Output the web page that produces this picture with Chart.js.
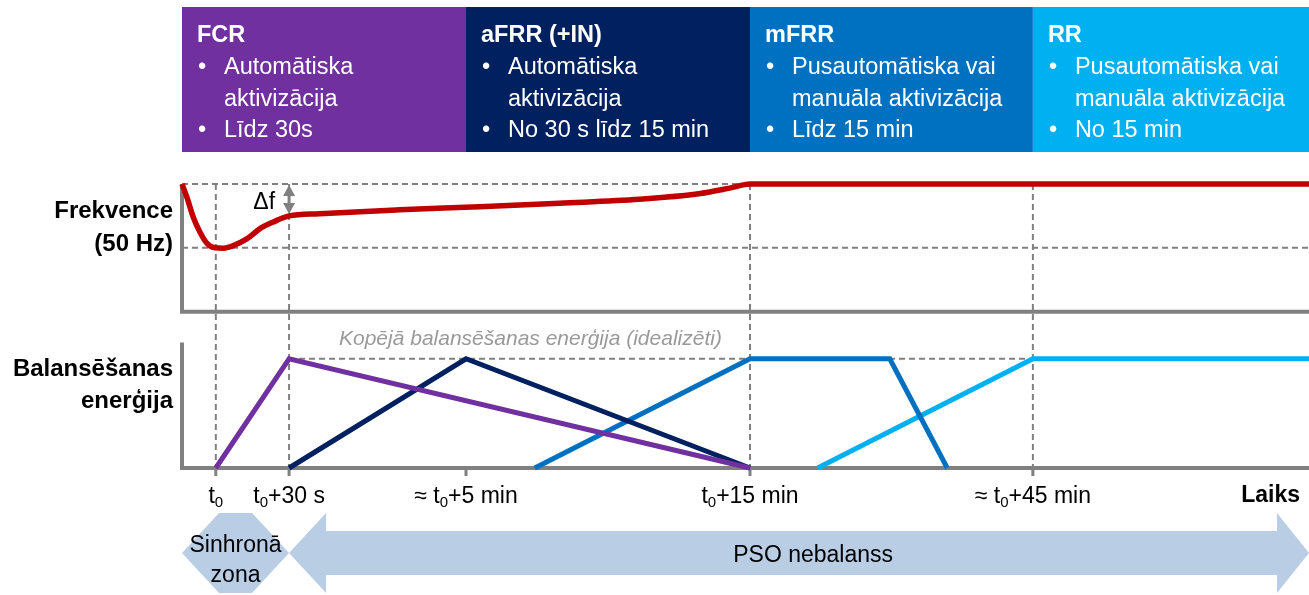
<!DOCTYPE html>
<html>
<head>
<meta charset="utf-8">
<script src="https://cdn.jsdelivr.net/npm/chart.js@4.4.1/dist/chart.umd.min.js"></script>
<style>
  html, body { margin: 0; padding: 0; background: #fff; }
  #wrap { width: 1309px; height: 595px; position: relative; }
</style>
</head>
<body>
<div id="wrap"><canvas id="chart"></canvas></div>
<script>
// schematic time axis 0..100 (not linear in real time)
const phaseNames = ['FCR', 'aFRR (+IN)', 'mFRR', 'RR'];
const phaseColors = ['#7030A0', '#002060', '#0070C0', '#00B0F0'];
const phaseBounds = [0, 25.2, 50.4, 75.5, 100];
const phaseLines = [
    [['Automātiska', 'aktivizācija'], ['Līdz 30s']],
    [['Automātiska', 'aktivizācija'], ['No 30 s līdz 15 min']],
    [['Pusautomātiska vai', 'manuāla aktivizācija'], ['Līdz 15 min']],
    [['Pusautomātiska vai', 'manuāla aktivizācija'], ['No 15 min']]
];

const tickPos = [3, 9.5, 25.2, 50.4, 75.5];
const tickLabels = ['t₀', 't₀+30 s', '≈ t₀+5 min', 't₀+15 min', '≈ t₀+45 min'];
const guidePos = [3, 9.5, 50.4, 75.5];

// frequency (Hz)
const freqNominal = 50.0;
const freqDip = 49.8;
const freqAxisMin = 49.6;
const freqX = [0, 0.42, 1.0, 1.6, 2.2, 2.93, 3.7, 4.5, 5.74, 6.92, 8.1, 9.5, 12.2, 19.3, 26.4, 33.5, 40.6, 46.0, 48.6, 50.4, 100];
const freqY = [50.0, 49.96, 49.896, 49.849, 49.815, 49.80, 49.799, 49.806, 49.828, 49.86, 49.881, 49.9, 49.907, 49.919, 49.929, 49.94, 49.952, 49.97, 49.987, 50.0, 50.0];

// balancing energy (relative to total)
const fcrX = [3, 9.5, 50.4];
const fcrY = [0, 1, 0];
const afrrX = [9.5, 25.2, 50.4];
const afrrY = [0, 1, 0];
const mfrrX = [31.3, 50.4, 62.8, 67.9];
const mfrrY = [0, 1, 1, 0];
const rrX = [56.4, 75.5, 100];
const rrY = [0, 1, 1];

const F = '"Liberation Sans", Arial, sans-serif';
const GRAY = '#808080';

function pts(xs, ys) {
    return xs.map((v, i) => ({ x: v, y: ys[i] }));
}

function seg(ctx, x1, y1, x2, y2) {
    ctx.beginPath();
    ctx.moveTo(x1, y1);
    ctx.lineTo(x2, y2);
    ctx.stroke();
}

function subText(ctx, str, cx, base, size, align) {
    const parts = str.split('₀');
    const sub = Math.round(size * 0.65);
    let w = 0;
    parts.forEach((p, i) => {
        ctx.font = size + 'px ' + F;
        w += ctx.measureText(p).width;
        if (i < parts.length - 1) {
            ctx.font = sub + 'px ' + F;
            w += ctx.measureText('0').width;
        }
    });
    let x0 = align === 'center' ? cx - w / 2 : cx;
    ctx.textAlign = 'left';
    parts.forEach((p, i) => {
        ctx.font = size + 'px ' + F;
        ctx.fillText(p, x0, base);
        x0 += ctx.measureText(p).width;
        if (i < parts.length - 1) {
            ctx.font = sub + 'px ' + F;
            ctx.fillText('0', x0, base + 4);
            x0 += ctx.measureText('0').width;
        }
    });
}

const diagram = {
    id: 'diagram',
    beforeDatasetsDraw(chart) {
        const { ctx } = chart;
        const x = chart.scales.x, yF = chart.scales.yF, yE = chart.scales.yE;
        const fTop = yF.getPixelForValue(freqNominal);
        const fDip = yF.getPixelForValue(freqDip);
        const fBase = yF.getPixelForValue(freqAxisMin);
        const eBase = yE.getPixelForValue(0);
        const ePeak = yE.getPixelForValue(1);
        ctx.save();

        // header boxes
        phaseNames.forEach((name, i) => {
            const l = x.getPixelForValue(phaseBounds[i]);
            const r = x.getPixelForValue(phaseBounds[i + 1]);
            ctx.fillStyle = phaseColors[i];
            ctx.fillRect(l, 7, r - l, 145);
            ctx.fillStyle = '#fff';
            ctx.textAlign = 'left';
            ctx.textBaseline = 'alphabetic';
            ctx.font = 'bold 23.5px ' + F;
            ctx.fillText(name, l + 15, 42);
            ctx.font = '23.5px ' + F;
            let row = 0;
            phaseLines[i].forEach(bullet => {
                bullet.forEach((txt, k) => {
                    const yy = 74 + row * 31.6;
                    if (k === 0) ctx.fillText('•', l + 16, yy);
                    ctx.fillText(txt, l + 42, yy);
                    row++;
                });
            });
        });

        // dashed guides
        ctx.strokeStyle = GRAY;
        ctx.lineWidth = 2;
        ctx.setLineDash([6, 4]);
        seg(ctx, x.left, fTop, x.getPixelForValue(50.4), fTop);
        seg(ctx, x.left, fDip, x.right, fDip);
        seg(ctx, x.getPixelForValue(9.5), ePeak, x.getPixelForValue(75.5), ePeak);
        guidePos.forEach(v => {
            const px = x.getPixelForValue(v);
            seg(ctx, px, fTop, px, eBase);
        });
        ctx.setLineDash([]);

        // axes
        ctx.lineWidth = 4;
        ctx.lineJoin = 'miter';
        ctx.beginPath();
        ctx.moveTo(x.left, fTop);
        ctx.lineTo(x.left, fBase);
        ctx.lineTo(x.right, fBase);
        ctx.stroke();
        ctx.beginPath();
        ctx.moveTo(x.left, yE.getPixelForValue(1.15));
        ctx.lineTo(x.left, eBase);
        ctx.lineTo(x.right, eBase);
        ctx.stroke();
        ctx.lineWidth = 3;
        tickPos.forEach(v => {
            const px = x.getPixelForValue(v);
            seg(ctx, px, eBase, px, eBase + 8);
        });

        // delta f arrow
        const ax = x.getPixelForValue(9.5);
        const aTop = fTop + 1, aBot = yF.getPixelForValue(49.9) - 2;
        ctx.lineWidth = 3;
        seg(ctx, ax, aTop + 8, ax, aBot - 8);
        ctx.fillStyle = GRAY;
        ctx.beginPath();
        ctx.moveTo(ax, aTop); ctx.lineTo(ax - 6, aTop + 11); ctx.lineTo(ax + 6, aTop + 11);
        ctx.closePath(); ctx.fill();
        ctx.beginPath();
        ctx.moveTo(ax, aBot); ctx.lineTo(ax - 6, aBot - 11); ctx.lineTo(ax + 6, aBot - 11);
        ctx.closePath(); ctx.fill();
        ctx.fillStyle = '#000';
        ctx.font = '23px ' + F;
        ctx.textAlign = 'right';
        ctx.fillText('Δf', ax - 14, 209);

        ctx.restore();
    },
    afterDraw(chart) {
        const { ctx } = chart;
        const x = chart.scales.x, yE = chart.scales.yE;
        ctx.save();
        ctx.textBaseline = 'alphabetic';

        // side labels
        ctx.fillStyle = '#000';
        ctx.font = 'bold 24px ' + F;
        ctx.textAlign = 'right';
        ctx.fillText('Frekvence', 173, 218);
        ctx.fillText('(50 Hz)', 173, 251);
        ctx.fillText('Balansēšanas', 173, 376);
        ctx.fillText('enerģija', 173, 408);
        ctx.font = 'bold 23px ' + F;
        ctx.fillText('Laiks', 1300, 502);

        // note
        ctx.fillStyle = '#9a9a9a';
        ctx.font = 'italic 21px ' + F;
        ctx.textAlign = 'left';
        ctx.fillText('Kopējā balansēšanas enerģija (idealizēti)', 339, yE.getPixelForValue(1.13));

        // tick labels
        ctx.fillStyle = '#000';
        tickPos.forEach((v, i) => {
            subText(ctx, tickLabels[i], x.getPixelForValue(v), 503, 23, 'center');
        });

        // bottom arrows
        const cy = 553;
        ctx.fillStyle = '#B9CDE5';
        const tl = x.getPixelForValue(0), tr = x.getPixelForValue(9.5);
        ctx.beginPath();
        ctx.moveTo(tl, cy);
        ctx.lineTo(tl + 37, cy - 40);
        ctx.lineTo(tr - 37, cy - 40);
        ctx.lineTo(tr, cy);
        ctx.lineTo(tr - 37, cy + 40);
        ctx.lineTo(tl + 37, cy + 40);
        ctx.closePath();
        ctx.fill();

        const L = x.getPixelForValue(9.5), R = x.getPixelForValue(100);
        ctx.beginPath();
        ctx.moveTo(L, cy);
        ctx.lineTo(L + 37, cy - 40);
        ctx.lineTo(L + 37, cy - 22);
        ctx.lineTo(R - 32, cy - 22);
        ctx.lineTo(R - 32, cy - 40);
        ctx.lineTo(R, cy);
        ctx.lineTo(R - 32, cy + 40);
        ctx.lineTo(R - 32, cy + 22);
        ctx.lineTo(L + 37, cy + 22);
        ctx.lineTo(L + 37, cy + 40);
        ctx.closePath();
        ctx.fill();

        ctx.fillStyle = '#000';
        ctx.font = '23px ' + F;
        ctx.textAlign = 'center';
        ctx.fillText('Sinhronā', (tl + tr) / 2, 552);
        ctx.fillText('zona', (tl + tr) / 2, 582);
        ctx.fillText('PSO nebalanss', x.getPixelForValue(56), 562);

        ctx.restore();
    }
};

new Chart(document.getElementById('chart'), {
    type: 'line',
    data: {
        datasets: [
            { label: 'Frekvence', data: pts(freqX, freqY), yAxisID: 'yF', borderColor: '#C00000', borderWidth: 5.5, cubicInterpolationMode: 'monotone' },
            { label: 'FCR', data: pts(fcrX, fcrY), yAxisID: 'yE', borderColor: phaseColors[0], borderWidth: 5 },
            { label: 'aFRR', data: pts(afrrX, afrrY), yAxisID: 'yE', borderColor: phaseColors[1], borderWidth: 5 },
            { label: 'mFRR', data: pts(mfrrX, mfrrY), yAxisID: 'yE', borderColor: phaseColors[2], borderWidth: 5 },
            { label: 'RR', data: pts(rrX, rrY), yAxisID: 'yE', borderColor: phaseColors[3], borderWidth: 5 }
        ]
    },
    options: {
        responsive: true,
        maintainAspectRatio: false,
        animation: false,
        layout: { padding: { left: 182, top: 184, right: 0, bottom: 127 } },
        elements: {
            point: { radius: 0 },
            line: { tension: 0, fill: false, borderJoinStyle: 'miter', borderCapStyle: 'butt' }
        },
        datasets: { line: { clip: 10 } },
        scales: {
            x: { type: 'linear', min: 0, max: 100, display: false },
            yF: { type: 'linear', min: 49.11, max: 50.0, display: false },
            yE: { type: 'linear', min: 0, max: 2.6, display: false }
        },
        plugins: {
            legend: { display: false },
            tooltip: { enabled: false }
        }
    },
    plugins: [diagram]
});
</script>
</body>
</html>
